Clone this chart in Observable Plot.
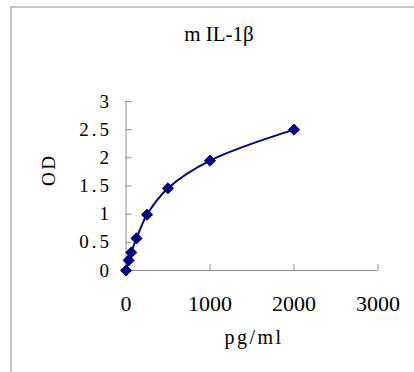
<!DOCTYPE html>
<html><head><meta charset="utf-8">
<script src="https://cdn.jsdelivr.net/npm/d3@7"></script>
<script src="https://cdn.jsdelivr.net/npm/@observablehq/plot@0.6"></script>
<style>
body{margin:0;background:#fff;}
#wrap{position:relative;width:414px;height:372px;overflow:hidden;}
#frame{position:absolute;left:10px;top:6px;width:420px;height:380px;border-top:2px solid #c4c4c4;border-left:2px solid #c4c4c4;}
#wrap svg{position:absolute;left:0;top:0;}
</style></head><body><div id="wrap"><div id="frame"></div></div>
<script>
const title = "m IL-1β";
const xLabel = "pg/ml";
const yLabel = "OD";
const conc = [0, 31.25, 62.5, 125, 250, 500, 1000, 2000];
const od = [0, 0.18, 0.32, 0.57, 0.99, 1.46, 1.95, 2.50];
const xTicks = [0, 1000, 2000, 3000];
const yTicks = [0, 0.5, 1, 1.5, 2, 2.5, 3];
const data = conc.map((c, i) => ({c, od: od[i]}));
const navy = "#000080";
const yTickFmt = d => String(d);
const chart = Plot.plot({
  width: 414, height: 372,
  marginLeft: 125.5, marginRight: 36.5, marginTop: 101, marginBottom: 102,
  x: {domain: [0, 3000]},
  y: {domain: [0, 3]},
  style: {background: "transparent", overflow: "visible"},
  marks: [
    Plot.ruleY([0], {stroke: "#8c8c8c"}),
    Plot.ruleX([0], {stroke: "#8c8c8c"}),
    Plot.axisY({ticks: yTicks, tickSize: -6, tickPadding: 20, stroke: "#8c8c8c", fill: "black",
      fontFamily: "Liberation Serif", fontSize: 19, tickFormat: yTickFmt, label: null}),
    Plot.axisX({ticks: xTicks, tickSize: -6, tickPadding: 31, stroke: "#8c8c8c", fill: "black",
      fontFamily: "Liberation Serif", fontSize: 22, tickFormat: d => String(d), label: null}),
    Plot.line(data, {x: "c", y: "od", stroke: navy, strokeWidth: 2, curve: "catmull-rom"}),
    Plot.dot(data, {x: "c", y: "od", symbol: "diamond2", r: 5, fill: navy, stroke: navy, strokeWidth: 1}),
    Plot.text([title], {frameAnchor: "top", dx: -33, dy: -67, lineAnchor: "middle",
      fontFamily: "Liberation Serif", fontSize: 21, fill: "black"}),
    Plot.text([xLabel], {frameAnchor: "bottom", dx: 2, dy: 67, lineAnchor: "middle",
      fontFamily: "Liberation Serif", fontSize: 20, fill: "black"}),
    Plot.text([yLabel], {frameAnchor: "left", dx: -77, rotate: -90, lineAnchor: "middle",
      fontFamily: "Liberation Serif", fontSize: 19, fill: "black"})
  ]
});
const tickStrings = new Set(yTicks.map(yTickFmt));
d3.select(chart).selectAll("text").each(function() {
  const t = this.textContent;
  if (t === xLabel || t === yLabel) this.style.letterSpacing = "2.5px";
  else if (tickStrings.has(t) && !xTicks.map(String).includes(t)) this.style.letterSpacing = "3px";
});
d3.select(chart).selectAll("text").filter(function() { return this.textContent === "0" && this.closest('g[aria-label="y-axis tick label"]'); })
  .style("letter-spacing", "3px");
document.getElementById("wrap").appendChild(chart);
</script></body></html>
